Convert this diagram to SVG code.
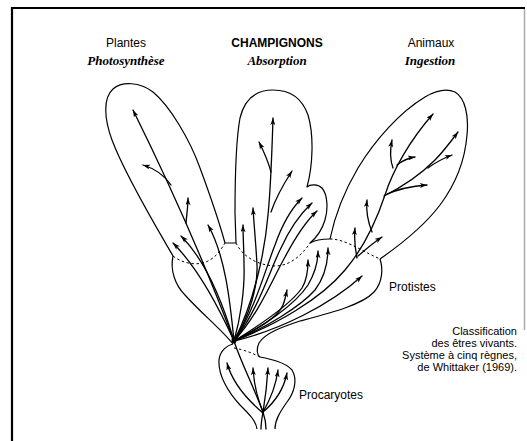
<svg xmlns="http://www.w3.org/2000/svg" width="527" height="441" viewBox="0 0 527 441">
<style>
.ol{fill:none;stroke:#000;stroke-width:1.2;stroke-linejoin:round}
.da{fill:none;stroke:#000;stroke-width:1;stroke-dasharray:2.5 2.5}
.br{fill:none;stroke:#000;stroke-width:1.3;stroke-linecap:round}
.ar{marker-end:url(#ah)}
.sans{font-family:"Liberation Sans",Arial,sans-serif;fill:#000}
.ital{font-family:"Liberation Serif","Times New Roman",serif;font-style:italic;font-weight:bold;font-size:13px;fill:#000}
</style>
<defs>
<marker id="ah" viewBox="0 0 10 7" refX="10" refY="3.5" markerWidth="8" markerHeight="5" markerUnits="userSpaceOnUse" orient="auto">
<path d="M0,0 L10,3.5 L0,7 L2.5,3.5 z" fill="#000"/>
</marker>
</defs>
<rect width="527" height="441" fill="#fff"/>
<g id="frame">
<line x1="12" y1="7" x2="12" y2="441" stroke="#000" stroke-width="2.2"/>
<line x1="11" y1="8" x2="525" y2="8" stroke="#000" stroke-width="2"/>
<line x1="524.5" y1="9" x2="524.5" y2="330" stroke="#aaa" stroke-width="1.5"/>
</g>
<g id="outlines">
<path id="plantes-lobe" class="ol" d="M173,256 C158,230 125,175 112,140 C104,118 103,98 113,89 C122,81 140,82 153,92 C170,106 190,140 200,168 C210,195 220,225 225,243 L236,243"/>
<path id="champignons-lobe" class="ol" d="M236,243 L235,213 C235,180 236,140 240,118 C245,97 258,90 273,90 C290,90 302,98 308,115 C314,135 313,165 307,187 C310,184 318,184 322,188 C328,195 328,210 325,220 C322,230 316,238 310,243"/>
<path id="protistes-top" class="ol" d="M310,243 C315,240 322,239 330,239"/>
<path id="animaux-lobe" class="ol" d="M330,239 C335,215 345,190 358,168 C375,140 400,112 425,97 C437,90 448,89 455,92 C465,98 469,115 467,135 C465,160 455,185 440,205 C425,225 400,245 380,259"/>
<path id="protistes-right" class="ol" d="M380,259 C383,268 383,282 374,292 C362,305 330,313 300,321 C282,327 265,333 259,343 C256,349 257,355 260,357"/>
<path id="procaryotes-right" class="ol" d="M260,357 C270,359 285,362 292,370 C298,380 294,393 287,402 C280,412 275,420 275,429"/>
<path id="protistes-left" class="ol" d="M173,256 C170,270 175,285 185,295 C200,312 222,330 233,344"/>
<path id="procaryotes-left" class="ol" d="M233,344 C228,345 220,350 219,360 C218,375 228,392 240,405 C250,415 256,421 257,429"/>
</g>
<g id="boundaries">
<path class="da" d="M173,256 C185,265 200,266 210,260 C218,255 222,248 225,243"/>
<path class="da" d="M236,243 C242,255 255,265 275,266 C290,266 302,255 310,243"/>
<path class="da" d="M330,239 C345,239 360,250 380,259"/>
<path class="da" d="M234,348 C245,350 252,353 260,357"/>
</g>
<g id="connectors">
<!-- Plantes -->
<path class="br ar" d="M234,341 C215,290 185,215 133,110"/>
<path class="br ar" d="M171,185 C165,176 156,169 143,165"/>
<path class="br ar" d="M186,223 C187,212 188,206 188,198"/>
<path class="br ar" d="M234,341 C220,310 200,270 173,243"/>
<path class="br ar" d="M234,341 C222,300 205,260 181,236"/>
<path class="br ar" d="M234,341 C230,300 225,255 208,225"/>
<!-- Champignons -->
<path class="br ar" d="M234,341 C255,300 265,250 268,215 C271,185 272,150 273,118"/>
<path class="br ar" d="M271,172 C268,160 263,150 259,142"/>
<path class="br ar" d="M271,212 C275,200 283,185 292,171"/>
<path class="br ar" d="M234,341 C250,315 258,285 257,265 C256,245 254,225 253,208"/>
<path class="br ar" d="M234,341 C240,320 245,290 244,265 C244,250 243,238 243,225"/>
<path class="br ar" d="M234,341 C255,310 265,270 275,245 C283,222 292,208 302,198"/>
<path class="br ar" d="M234,341 C258,310 268,275 280,250 C289,230 300,214 312,203"/>
<path class="br ar" d="M234,341 C260,312 272,280 285,257 C294,240 305,222 317,211"/>
<!-- Protistes -->
<path class="br ar" d="M234,341 C260,325 290,305 302,288 C307,280 308,270 308,260"/>
<path class="br ar" d="M234,341 C262,327 295,305 308,285 C315,273 318,262 318,251"/>
<path class="br ar" d="M234,341 C265,328 300,307 315,290 C324,278 328,262 328,248"/>
<path class="br ar" d="M234,341 C255,330 278,318 283,305 C285,300 286,295 287,290"/>
<path class="br ar" d="M234,341 C280,330 330,305 362,276"/>
<!-- Animaux -->
<path class="br ar" d="M234,341 C275,325 320,300 345,270 C362,250 375,225 385,195 C393,170 410,140 433,114"/>
<path class="br ar" d="M357,258 C355,248 354,238 355,228"/>
<path class="br ar" d="M358,256 C365,250 373,243 382,237"/>
<path class="br ar" d="M372,232 C368,222 366,210 367,200"/>
<path class="br ar" d="M393,168 C390,160 390,150 392,140"/>
<path class="br ar" d="M397,165 C402,161 408,158 415,157"/>
<path class="br ar" d="M384,196 C400,188 420,175 435,160 C443,152 452,140 458,132"/>
<path class="br ar" d="M428,168 C436,162 444,158 452,155"/>
<path class="br ar" d="M385,195 C398,189 412,186 427,185"/>
<!-- Procaryotes -->
<path class="br" d="M234,341 C240,360 255,390 263,412"/>
<path class="br ar" d="M263,413 C250,402 233,385 227,363"/>
<path class="br ar" d="M263,412 C258,400 254,385 253,368"/>
<path class="br ar" d="M263,412 C265,400 267,385 268,368"/>
<path class="br ar" d="M263,412 C270,400 276,385 278,370"/>
<path class="br ar" d="M263,412 C275,402 284,388 287,373"/>
<path class="br" d="M263,412 C262,418 261,423 261,429"/>
<path class="br" d="M263,412 C265,418 266,423 266,429"/>
<ellipse cx="234" cy="340" rx="2.5" ry="3.5" fill="#000"/>
</g>
<g id="labels">
<g id="plantes"><text class="sans" x="126" y="47" font-size="12" text-anchor="middle">Plantes</text><text class="ital" x="126" y="65" text-anchor="middle">Photosynthèse</text></g>
<g id="champignons"><text class="sans" x="277" y="47" font-size="12" font-weight="bold" text-anchor="middle">CHAMPIGNONS</text><text class="ital" x="277" y="65" text-anchor="middle">Absorption</text></g>
<g id="animaux"><text class="sans" x="431" y="47" font-size="12" text-anchor="middle">Animaux</text><text class="ital" x="430" y="65" text-anchor="middle">Ingestion</text></g>
<g id="protistes"><text class="sans" x="389" y="291" font-size="12">Protistes</text></g>
<g id="procaryotes"><text class="sans" x="299" y="399" font-size="12">Procaryotes</text></g>
<g id="caption" class="sans" font-size="11" text-anchor="end">
<text x="517" y="335">Classification</text>
<text x="517" y="347">des êtres vivants.</text>
<text x="517" y="359">Système à cinq règnes,</text>
<text x="517" y="371">de Whittaker (1969).</text>
</g>
</g>
</svg>
